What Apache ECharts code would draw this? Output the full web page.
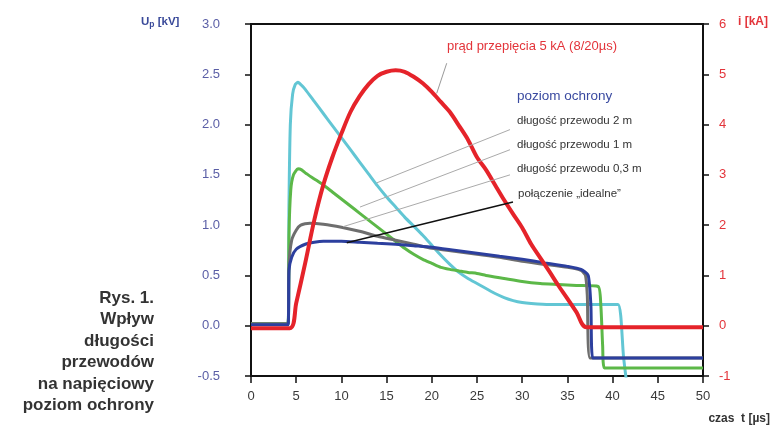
<!DOCTYPE html>
<html><head><meta charset="utf-8">
<script src="https://cdn.jsdelivr.net/npm/echarts@6/dist/echarts.min.js"></script>
<style>html,body{margin:0;padding:0;background:#fff}#c{width:774px;height:428px}</style>
</head><body><div id="c"></div>
<script>
// x-axis ticks (µs)
var xTicks = [0,5,10,15,20,25,30,35,40,45,50];
// Cyan: długość przewodu 2 m (kV)
var tCyan = [0,4.1,4.2,4.35,4.6,4.9,5.2,5.6,6,7,8,9,10,11,12,13,14,15,16,17,18,19,20,21,22,23,24,25,26,27,28,29,30,31,33,35,37,39,40.6,40.9,41.2,41.6];
var uCyan = [0.02,0.02,1.2,2.0,2.3,2.4,2.42,2.39,2.35,2.23,2.11,1.99,1.87,1.75,1.63,1.51,1.39,1.28,1.18,1.08,0.99,0.9,0.8,0.7,0.61,0.53,0.47,0.42,0.37,0.32,0.28,0.25,0.23,0.22,0.21,0.21,0.21,0.21,0.21,0.1,-0.3,-0.6];
// Green: długość przewodu 1 m (kV)
var tGreen = [0,4.1,4.2,4.4,4.7,5.2,5.6,6,7,8,9,10,11,12,13,14,15,16,17,18,19,20,21,22,23,24,25,26,28,30,32,34,36,38.4,38.7,38.9,39.1,50];
var uGreen = [0.02,0.02,0.9,1.35,1.5,1.56,1.55,1.52,1.46,1.4,1.33,1.26,1.19,1.12,1.05,0.98,0.91,0.84,0.77,0.71,0.66,0.62,0.58,0.56,0.545,0.53,0.52,0.5,0.47,0.44,0.42,0.41,0.4,0.39,0.2,-0.2,-0.42,-0.42];
// Gray: długość przewodu 0,3 m (kV)
var tGray = [0,4.1,4.2,4.5,5,5.5,6.5,8,10,12,14,16,18,20,22.5,25,27.5,30,32.5,35,36.5,37.0,37.2,37.5,50];
var uGray = [0.02,0.02,0.6,0.85,0.95,1.0,1.02,1.01,0.98,0.94,0.89,0.85,0.81,0.77,0.74,0.71,0.68,0.64,0.61,0.58,0.55,0.5,0.3,-0.32,-0.32];
// Blue: połączenie „idealne” (kV)
var tBlue = [0,4.1,4.2,4.5,5,6,7,8,10,12,14,16,18,20,22.5,25,27.5,30,32.5,35,36.5,37.3,37.6,37.8,50];
var uBlue = [0.01,0.01,0.55,0.68,0.76,0.81,0.83,0.84,0.84,0.83,0.82,0.81,0.795,0.78,0.75,0.72,0.69,0.66,0.625,0.59,0.56,0.5,0.2,-0.32,-0.32];
// Red: prąd przepięcia (kA)
var tRed = [0,4.3,5,6,7,8,9,10,11,12,13,14,15,16,17,18,19,20,21,22,23,24,25,26,27,28,29,30,31,32,33,34,35,36,37.1,50];
var iRed = [-0.05,-0.05,0.45,1.25,2.1,2.8,3.35,3.82,4.25,4.56,4.8,4.97,5.05,5.08,5.05,4.95,4.82,4.65,4.45,4.25,3.98,3.7,3.35,3.1,2.8,2.5,2.22,1.95,1.62,1.35,1.08,0.8,0.54,0.27,-0.03,-0.03];
// leader lines [t, value] pairs
var leadRed = [[21.65,5.22],[20.54,4.62]];
var lead2m = [[28.65,1.95],[13.9,1.42]];
var lead1m = [[28.65,1.75],[12.06,1.18]];
var lead03m = [[28.65,1.50],[10.2,0.985]];
var leadIdeal = [[28.98,1.23],[10.59,0.825]];

function zip(t,v){return t.map(function(x,i){return [x,v[i]];});}
function lead(p,color,w){return {silent:true,symbol:['none','none'],label:{show:false},lineStyle:{color:color,width:w,type:'solid'},data:[[{coord:p[0]},{coord:p[1]}]]};}

var FONT = '"Liberation Sans", Arial, sans-serif';
var chart = echarts.init(document.getElementById('c'), null, {renderer:'canvas'});
chart.setOption({
  animation:false,
  backgroundColor:'#fff',
  grid:{left:251,right:71,top:24,bottom:52,show:true,borderColor:'#111',borderWidth:2},
  xAxis:{type:'value',min:0,max:50,interval:5,
    axisLine:{onZero:false,lineStyle:{color:'#111',width:2}},
    axisTick:{length:7,lineStyle:{color:'#111',width:1.5}},
    axisLabel:{margin:14,fontSize:13,color:'#3a3a3a',fontFamily:FONT},
    splitLine:{show:false}},
  yAxis:[
    {type:'value',min:-0.5,max:3,interval:0.5,position:'left',
     axisLine:{show:true,lineStyle:{color:'#111',width:2}},
     axisTick:{show:true,length:6,lineStyle:{color:'#111',width:1.5}},
     axisLabel:{margin:31,fontSize:13,color:'#5a5ea6',fontFamily:FONT,formatter:function(v){return v.toFixed(1);}},
     splitLine:{show:false}},
    {type:'value',min:-1,max:6,interval:1,position:'right',
     axisLine:{show:true,lineStyle:{color:'#111',width:2}},
     axisTick:{show:true,length:6,lineStyle:{color:'#111',width:1.5}},
     axisLabel:{margin:16,fontSize:13,color:'#e3343a',fontFamily:FONT,align:'left'},
     splitLine:{show:false}}
  ],
  series:[
    {type:'line',name:'cyan',yAxisIndex:0,data:zip(tCyan,uCyan),showSymbol:false,smooth:0.2,lineStyle:{color:'#62c6d4',width:3},markLine:lead(lead2m,'#aaaaaa',1)},
    {type:'line',name:'green',yAxisIndex:0,data:zip(tGreen,uGreen),showSymbol:false,smooth:0.2,lineStyle:{color:'#5cb848',width:3},markLine:lead(lead1m,'#aaaaaa',1)},
    {type:'line',name:'gray',yAxisIndex:0,data:zip(tGray,uGray),showSymbol:false,smooth:0.2,lineStyle:{color:'#6e6e6e',width:3},markLine:lead(lead03m,'#aaaaaa',1)},
    {type:'line',name:'blue',yAxisIndex:0,data:zip(tBlue,uBlue),showSymbol:false,smooth:0.2,lineStyle:{color:'#2c3f9e',width:3},markLine:lead(leadIdeal,'#111111',1.5)},
    {type:'line',name:'red',yAxisIndex:1,data:zip(tRed,iRed),showSymbol:false,smooth:0.3,lineStyle:{color:'#e5232a',width:4},markLine:lead(leadRed,'#999999',1)}
  ],
  graphic:[
    {type:'text',left:141,top:16,style:{text:'{u|U}{s|p}{u| [kV]}',rich:{u:{fontSize:11.5,fontWeight:'bold',fill:'#3a4a9a',fontFamily:FONT},s:{fontSize:8.5,fontWeight:'bold',fill:'#3a4a9a',fontFamily:FONT,padding:[6,0,0,0]}}}},
    {type:'text',left:738,top:16,style:{text:'i [kA]',fontSize:12,fontWeight:'bold',fill:'#e3343a',fontFamily:FONT}},
    {type:'text',right:4,top:413,style:{text:'czas  t [µs]',fontSize:12,fontWeight:'bold',fill:'#333',fontFamily:FONT}},
    {type:'text',left:447,top:40,style:{text:'prąd przepięcia 5 kA (8/20µs)',fontSize:13,fill:'#e3343a',fontFamily:FONT}},
    {type:'text',left:517,top:89,style:{text:'poziom ochrony',fontSize:13.5,fill:'#3a4aa0',fontFamily:FONT}},
    {type:'text',left:517,top:115,style:{text:'długość przewodu 2 m',fontSize:11.5,fill:'#333',fontFamily:FONT}},
    {type:'text',left:517,top:139,style:{text:'długość przewodu 1 m',fontSize:11.5,fill:'#333',fontFamily:FONT}},
    {type:'text',left:517,top:163,style:{text:'długość przewodu 0,3 m',fontSize:11.5,fill:'#333',fontFamily:FONT}},
    {type:'text',left:518,top:188,style:{text:'połączenie „idealne”',fontSize:11.5,fill:'#333',fontFamily:FONT}},
    {type:'text',x:154,y:298,style:{text:'Rys. 1.',fontSize:17,fontWeight:'bold',fill:'#333',fontFamily:FONT,align:'right',verticalAlign:'middle'}},
    {type:'text',x:154,y:319.5,style:{text:'Wpływ',fontSize:17,fontWeight:'bold',fill:'#333',fontFamily:FONT,align:'right',verticalAlign:'middle'}},
    {type:'text',x:154,y:341,style:{text:'długości',fontSize:17,fontWeight:'bold',fill:'#333',fontFamily:FONT,align:'right',verticalAlign:'middle'}},
    {type:'text',x:154,y:362.5,style:{text:'przewodów',fontSize:17,fontWeight:'bold',fill:'#333',fontFamily:FONT,align:'right',verticalAlign:'middle'}},
    {type:'text',x:154,y:384,style:{text:'na napięciowy',fontSize:17,fontWeight:'bold',fill:'#333',fontFamily:FONT,align:'right',verticalAlign:'middle'}},
    {type:'text',x:154,y:405.5,style:{text:'poziom ochrony',fontSize:17,fontWeight:'bold',fill:'#333',fontFamily:FONT,align:'right',verticalAlign:'middle'}}
  ]
});
</script></body></html>
